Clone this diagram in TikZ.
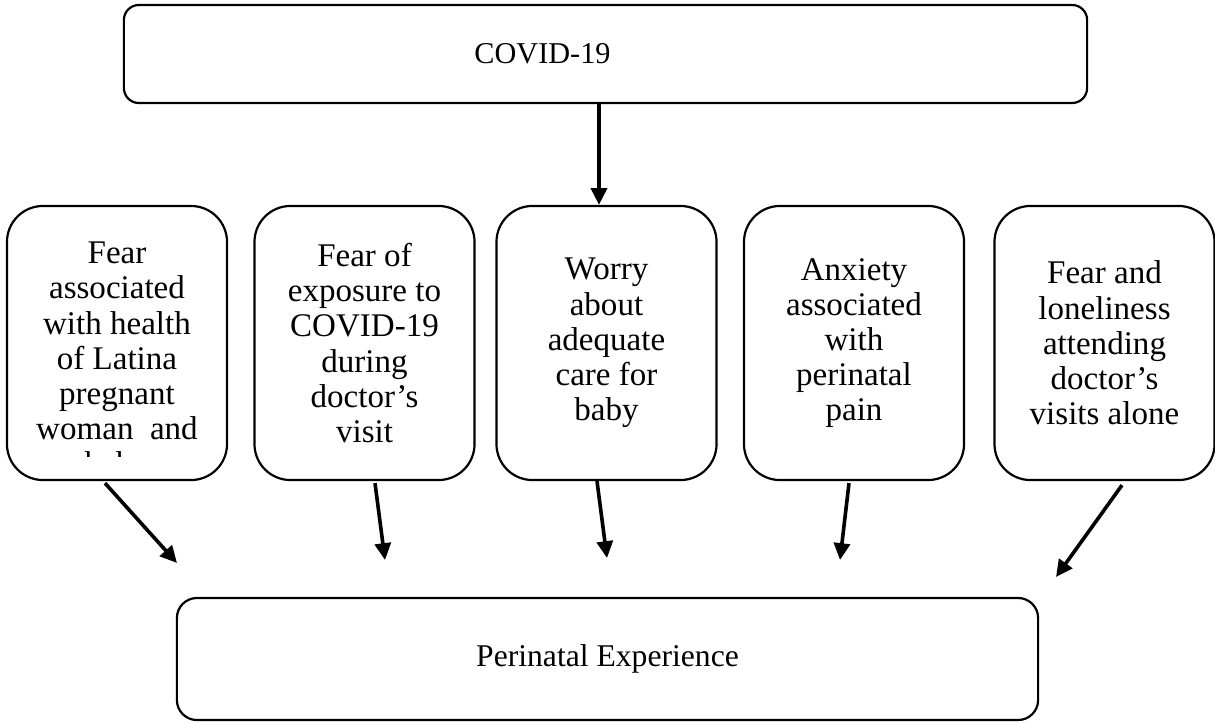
\documentclass[tikz,border=0pt]{standalone}
\usepackage{fontspec}
\setmainfont{Liberation Serif}
\usetikzlibrary{calc,arrows.meta}

\begin{document}
\begin{tikzpicture}[x=0.025cm, y=-0.025cm,
		box/.style={draw, line width=0.55mm, inner sep=0pt},
		causebox/.style={box, rounded corners=0.9cm, minimum width=5.5cm, minimum height=6.85cm, align=center, font=\fontsize{23.5}{25}\selectfont},
		flow/.style={line width=0.9mm, -{Triangle[length=0.42cm, width=0.4cm]}}]
			%%%%% START %%%%%
			
			\useasboundingbox (0, 0) rectangle (1215, 723);
			
			\node[box, rounded corners=0.375cm, minimum width=24.075cm, minimum height=2.45cm, font=\fontsize{21.5}{24}\selectfont] (covid) at (605.5, 54) {COVID-19\hspace*{3.15cm}};
			
			\node[causebox] (fear1) at (117, 343) {};
			\begin{scope}
				\clip (7, 206) rectangle (227, 456);
				\node[align=center, inner sep=0pt, font=\fontsize{23.5}{25}\selectfont] (fear1text) at (117, 362) {Fear\\associated\\with health\\of Latina\\pregnant\\woman~ and\\baby};
			\end{scope}
			\node[causebox] (fear2) at (364.5, 343) {Fear of\\exposure to\\COVID-19\\during\\doctor’s\\visit};
			\node[causebox] (worry) at (606.5, 343) {Worry\\about\\adequate\\care for\\baby};
			\node[causebox] (anxiety) at (854, 343) {Anxiety\\associated\\with\\perinatal\\pain};
			\node[causebox] (lonely) at (1104.5, 343) {Fear and\\loneliness\\attending\\doctor’s\\visits alone};
			
			\node[box, rounded corners=0.5cm, minimum width=21.525cm, minimum height=3.05cm, font=\fontsize{22.5}{26}\selectfont] (perinatal) at (607.5, 659) {Perinatal Experience};
			
			\coordinate (tip1) at (177, 563);
			\coordinate (tip2) at (385, 560);
			\coordinate (tip3) at (607, 558);
			\coordinate (tip4) at (840, 560);
			\coordinate (tip5) at (1056, 577);
			
			\draw[flow] ($(covid.south)+(-6.5, 0)$) -- ($(worry.north)+(-7.5, 0)$);
			\draw[flow] ($(fear1.south)+(-12, 2)$) -- (tip1);
			\draw[flow] ($(fear2.south)+(10.5, 2)$) -- (tip2);
			\draw[flow] ($(worry.south)+(-9.5, 0)$) -- (tip3);
			\draw[flow] ($(anxiety.south)+(-5, 2)$) -- (tip4);
			\draw[flow] ($(lonely.south)+(17.5, 4)$) -- (tip5);
			
			%%%%% END %%%%%
		\end{tikzpicture}
\end{document}
